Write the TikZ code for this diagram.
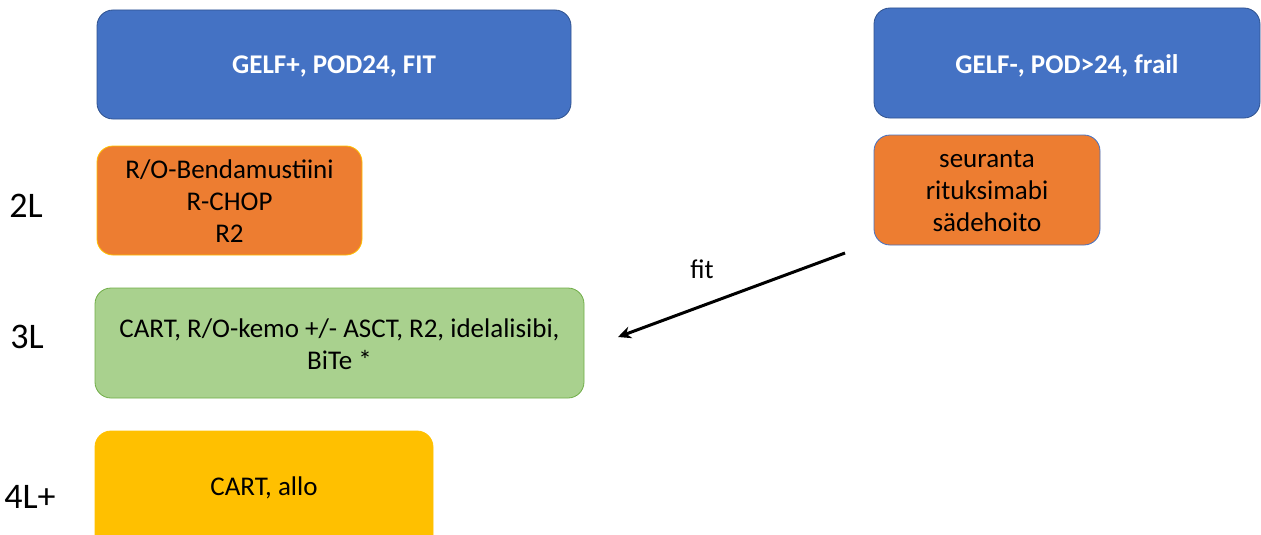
\documentclass[tikz,border=0pt]{standalone}
\usepackage{fontspec}
\setmainfont{Carlito}
\usetikzlibrary{arrows.meta}
\definecolor{boxblue}{HTML}{4472C4}
\definecolor{bordblue}{HTML}{2F528F}
\definecolor{boxorange}{HTML}{ED7D31}
\definecolor{boxgreen}{HTML}{A9D18E}
\definecolor{bordgreen}{HTML}{70AD47}
\definecolor{boxyellow}{HTML}{FFC000}
\definecolor{bordyel}{HTML}{FFC000}
\tikzset{
  rbox/.style={rounded corners=16pt, line width=0.8pt},
  boxtext/.style={align=center, inner sep=0pt, font=\fontsize{27}{32}\selectfont},
  headtext/.style={align=center, inner sep=0pt, text=white, font=\fontsize{27}{32}\selectfont\bfseries},
  lvl/.style={inner sep=0pt, font=\fontsize{36}{40}\selectfont}
}
\begin{document}
\begin{tikzpicture}[x=1pt,y=-1pt]
\useasboundingbox (0,0) rectangle (1261,535);
\clip (0,0) rectangle (1261,535);
% header boxes
\draw[rbox, fill=boxblue, draw=bordblue] (97,10) rectangle (571,119);
\node[headtext] (h1) at (334,66) {GELF+, POD24, FIT};
\draw[rbox, fill=boxblue, draw=bordblue] (874,8) rectangle (1260,118);
\node[headtext] (h2) at (1067,66) {GELF-, POD>24, frail};
% 2L
\draw[rbox, fill=boxorange, draw=bordyel] (97,146) rectangle (362,255);
\node[boxtext] (o1) at (229.5,201) {R/O-Bendamustiini\\R-CHOP\\R2};
\draw[rbox, fill=boxorange, draw=boxblue] (874,135) rectangle (1100,245);
\node[boxtext] (o2) at (987,191) {seuranta\\rituksimabi\\sädehoito};
% 3L
\draw[rbox, fill=boxgreen, draw=bordgreen] (95,288) rectangle (584,398);
\node[boxtext] (g1) at (339.5,344) {CART, R/O-kemo +/- ASCT, R2, idelalisibi,\\BiTe *};
% 4L+
\draw[rbox, fill=boxyellow, draw=boxyellow] (95,431) rectangle (433,560);
\node[boxtext] (y1) at (264,488) {CART, allo};
% level labels
\node[lvl] (l2) at (26,206) {2L};
\node[lvl] (l3) at (27,337) {3L};
\node[lvl] (l4) at (30,497) {4L+};
% arrow
\coordinate (as) at (845,253);
\coordinate (ae) at (618,337);
\draw[line width=3pt, -{Stealth[length=13pt,width=12pt]}] (as) -- (ae);
\node[boxtext] (fit) at (702,269) {fit};
\end{tikzpicture}
\end{document}
